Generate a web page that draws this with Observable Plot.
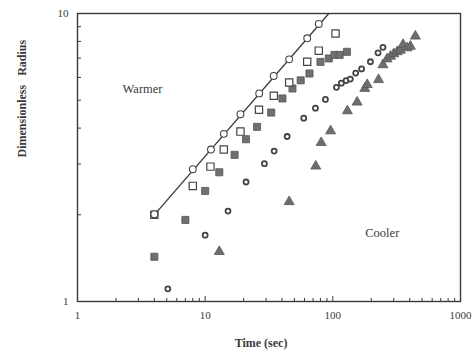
<!DOCTYPE html>
<html>
<head>
<meta charset="utf-8">
<script src="https://cdn.jsdelivr.net/npm/d3@7"></script>
<script src="https://cdn.jsdelivr.net/npm/@observablehq/plot@0.6"></script>
<style>
  html, body { margin: 0; padding: 0; background: #fff; }
</style>
</head>
<body>
<div id="chart"></div>
<script>
// Hollow circles (warmest) with fitted line
const circT = [4, 8, 11.1, 14, 18.9, 26.5, 34.4, 45.5, 63, 77.6];
const circR = [2.01, 2.88, 3.37, 3.82, 4.47, 5.28, 6.07, 6.93, 8.2, 9.2];
const lineT = [4, 93];
const lineR = [2, 10];
// Hollow squares
const sqT = [4, 8, 11, 14, 18.9, 26.4, 34.5, 45.5, 63, 77.6, 105];
const sqR = [2.0, 2.52, 2.94, 3.37, 3.89, 4.63, 5.18, 5.76, 6.8, 7.43, 8.52];
// Filled squares
const fsT = [4, 7, 10, 12.9, 17, 20.9, 25.5, 32.9, 40.3, 48.3, 56, 65.6, 80, 93, 103, 113, 129];
const fsR = [1.43, 1.92, 2.42, 2.81, 3.23, 3.66, 4.04, 4.53, 5.07, 5.49, 5.86, 6.19, 6.79, 6.98, 7.18, 7.18, 7.36];
// Bold-ring circles
const rcT = [5.1, 10, 15.1, 20.9, 29.1, 34.7, 43.9, 59.2, 73.1, 87.5, 106.7, 116.7, 127, 137, 151, 168, 197, 226, 247];
const rcR = [1.107, 1.70, 2.06, 2.60, 3.01, 3.33, 3.74, 4.33, 4.69, 5.03, 5.54, 5.73, 5.85, 5.92, 6.21, 6.42, 6.80, 7.30, 7.63];
// Filled triangles (coolest)
const trT = [12.9, 45.5, 73.5, 81, 96, 130, 155, 178, 186, 228, 247, 266, 283, 300, 319, 338, 355, 382, 405, 443];
const trR = [1.49, 2.22, 2.95, 3.56, 3.91, 4.59, 4.92, 5.49, 5.66, 5.89, 6.63, 6.95, 7.10, 7.24, 7.36, 7.45, 7.80, 7.59, 7.69, 8.34];
// Annotations
const noteText = ["Warmer", "Cooler"];
const noteT = [3.23, 244];
const noteR = [5.48, 1.73];
// Ticks
const xMajorTicks = [1, 10, 100, 1000];
const xMinorTicks = [2,3,4,5,6,7,8,9,20,30,40,50,60,70,80,90,200,300,400,500,600,700,800,900];
const yTicks = [2,3,4,5,6,7,8,9];
const yLabelTicks = [1, 10];

const pts = (T, R) => T.map((t, i) => ({t, r: R[i]}));
const ink = "#3a3a3a";
const W = 473, H = 360, mL = 77, mR = 13, mT = 13, mB = 59;
const pw = W - mL - mR, ph = H - mT - mB;

const chart = Plot.plot({
  width: W, height: H,
  marginLeft: mL, marginRight: mR, marginTop: mT, marginBottom: mB,
  style: {fontFamily: "Liberation Serif, serif", fontSize: "11px", color: ink, background: "#fff"},
  x: {type: "log", domain: [1, 1000], axis: null},
  y: {type: "log", domain: [1, 10], axis: null},
  marks: [
    Plot.frame({stroke: ink, strokeWidth: 1.4}),
    // inward ticks
    Plot.tickX(xMinorTicks, {x: d => d, insetTop: ph - 3, stroke: ink, strokeWidth: 1}),
    Plot.tickX([10, 100], {x: d => d, insetTop: ph - 5, stroke: ink, strokeWidth: 1}),
    Plot.tickY(yTicks, {y: d => d, insetRight: pw - 4, stroke: ink, strokeWidth: 1}),
    // tick labels
    Plot.axisX({ticks: xMajorTicks, tickSize: 0, tickPadding: 10, tickFormat: d => String(d), fill: ink, label: null}),
    Plot.axisY({ticks: yLabelTicks, tickSize: 0, tickPadding: 9, tickFormat: d => String(d), fill: ink, label: null}),
    // axis titles
    Plot.text(["Time (sec)"], {frameAnchor: "bottom", dy: 45, dx: -8, fontWeight: "bold", fontSize: 12, fill: ink}),
    Plot.text(["Dimensionless\u00a0\u00a0\u00a0Radius"], {frameAnchor: "left", rotate: -90, dx: -55, fontWeight: "bold", fontSize: 12, fill: ink}),
    // fitted line
    Plot.line(pts(lineT, lineR), {x: "t", y: "r", stroke: ink, strokeWidth: 1.3}),
    // series
    Plot.dot(pts(trT, trR), {x: "t", y: "r", symbol: "triangle", r: 3.7, fill: "#6e6e6e", stroke: "#555", strokeWidth: 0.8}),
    Plot.dot(pts(rcT, rcR), {x: "t", y: "r", symbol: "circle", r: 2.5, fill: "#fff", stroke: "#444", strokeWidth: 1.8}),
    Plot.dot(pts(fsT, fsR), {x: "t", y: "r", symbol: "square", r: 4.0, fill: "#707070", stroke: "#555", strokeWidth: 0.8}),
    Plot.dot(pts(sqT, sqR), {x: "t", y: "r", symbol: "square", r: 4.1, fill: "#fff", stroke: "#444", strokeWidth: 1.2}),
    Plot.dot(pts(circT, circR), {x: "t", y: "r", symbol: "circle", r: 3.4, fill: "#fff", stroke: "#444", strokeWidth: 1.1}),
    // annotations
    Plot.text(noteText.map((s, i) => ({s, t: noteT[i], r: noteR[i]})), {x: "t", y: "r", text: "s", fontSize: 12.5, fill: ink})
  ]
});
document.getElementById("chart").appendChild(chart);
</script>
</body>
</html>
